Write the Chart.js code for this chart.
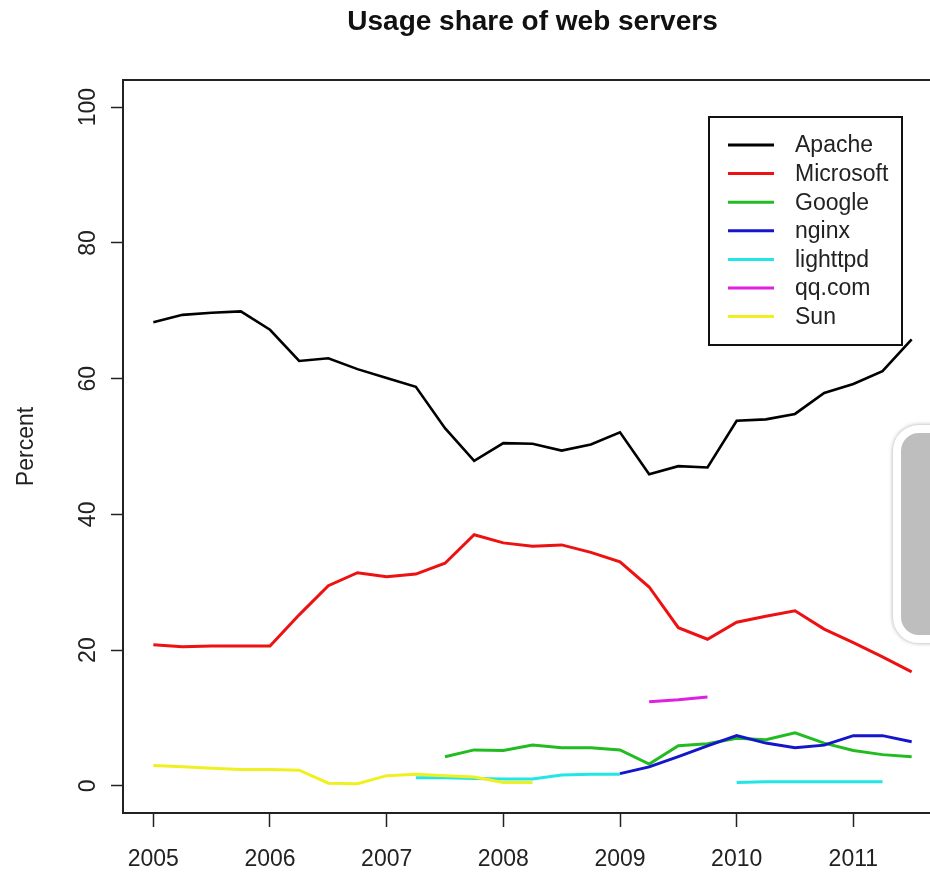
<!DOCTYPE html>
<html>
<head>
<meta charset="utf-8">
<script src="https://cdn.jsdelivr.net/npm/chart.js@4.4.1/dist/chart.umd.min.js"></script>
<style>
  html, body { margin: 0; padding: 0; background: #fff; overflow: hidden; }
  #wrap { position: relative; width: 960px; height: 874px; }
  #popup { position: absolute; left: 893px; top: 425px; width: 60px; height: 202px;
    background: #bebebe; border: 8px solid #fff; border-radius: 26px;
    box-shadow: 0 0 4px rgba(0,0,0,0.35); }
</style>
</head>
<body>
<div id="wrap">
  <canvas id="myChart"></canvas>
  <div id="popup"></div>
</div>
<script>
var ctx = document.getElementById('myChart');

var Quarters = [2005, 2005.25, 2005.5, 2005.75, 2006, 2006.25, 2006.5, 2006.75, 2007, 2007.25, 2007.5, 2007.75, 2008, 2008.25, 2008.5, 2008.75, 2009, 2009.25, 2009.5, 2009.75, 2010, 2010.25, 2010.5, 2010.75, 2011, 2011.25, 2011.5];
var Apache    = [68.3, 69.4, 69.7, 69.9, 67.2, 62.6, 63.0, 61.4, 60.1, 58.8, 52.7, 47.9, 50.5, 50.4, 49.4, 50.3, 52.1, 45.9, 47.1, 46.9, 53.8, 54.0, 54.8, 57.9, 59.2, 61.1, 65.8];
var Microsoft = [20.8, 20.5, 20.6, 20.6, 20.6, 25.2, 29.5, 31.4, 30.8, 31.2, 32.8, 37.0, 35.8, 35.3, 35.5, 34.4, 33.0, 29.3, 23.3, 21.6, 24.1, 25.0, 25.8, 23.1, 21.1, 19.0, 16.8];
var Google    = [null, null, null, null, null, null, null, null, null, null, 4.3, 5.3, 5.2, 6.0, 5.6, 5.6, 5.3, 3.2, 5.9, 6.2, 7.0, 6.8, 7.8, 6.3, 5.2, 4.6, 4.3];
var Nginx     = [null, null, null, null, null, null, null, null, null, null, null, null, null, null, null, null, 1.8, 2.8, 4.3, 5.9, 7.4, 6.3, 5.6, 6.0, 7.4, 7.4, 6.5];
var Lighttpd  = [null, null, null, null, null, null, null, null, null, 1.2, 1.2, 1.1, 1.0, 1.0, 1.6, 1.7, 1.7, null, null, null, 0.5, 0.6, 0.6, 0.6, 0.6, 0.6, null];
var QQ        = [null, null, null, null, null, null, null, null, null, null, null, null, null, null, null, null, null, 12.4, 12.7, 13.1, null, null, null, null, null, null, null];
var Sun       = [3.0, 2.8, 2.6, 2.4, 2.4, 2.3, 0.4, 0.3, 1.5, 1.7, 1.5, 1.3, 0.5, 0.5, null, null, null, null, null, null, null, null, null, null, null, null, null];

var Names  = ['Apache', 'Microsoft', 'Google', 'nginx', 'lighttpd', 'qq.com', 'Sun'];
var Series = [Apache, Microsoft, Google, Nginx, Lighttpd, QQ, Sun];
var Colors = ['#000000', '#ee1111', '#22bb22', '#1515cc', '#22e6e6', '#e020e0', '#f0f020'];
var XTicks = [2005, 2006, 2007, 2008, 2009, 2010, 2011];
var YTicks = [0, 20, 40, 60, 80, 100];

var FONT = '"Liberation Sans", Arial, Helvetica, sans-serif';

var datasets = Series.map(function (vals, i) {
  return {
    label: Names[i],
    data: Quarters.map(function (q, j) { return { x: q, y: vals[j] }; }),
    borderColor: Colors[i],
    backgroundColor: Colors[i],
    borderWidth: i == 0 ? 2.6 : 3,
    pointRadius: 0,
    tension: 0,
    spanGaps: false,
    order: -i
  };
});

// R style frame, rotated y labels and the boxed legend
var rStyle = {
  id: 'rStyle',
  afterDraw: function (chart) {
    var c = chart.ctx, a = chart.chartArea;
    c.save();
    c.strokeStyle = '#222';
    c.lineWidth = 2;
    c.strokeRect(a.left, a.top, a.right - a.left, a.bottom - a.top);

    var ys = chart.scales.y;
    c.fillStyle = '#222';
    c.font = '23px ' + FONT;
    c.textAlign = 'center';
    c.textBaseline = 'middle';
    YTicks.forEach(function (v) {
      c.save();
      c.translate(89, ys.getPixelForValue(v));
      c.rotate(-Math.PI / 2);
      c.fillText(String(v), 0, 0);
      c.restore();
    });

    // legend
    var lx = 709, ly = 117, lw = 193, lh = 228, row = 28.6;
    c.fillStyle = '#fff';
    c.fillRect(lx, ly, lw, lh);
    c.strokeStyle = '#111';
    c.lineWidth = 2;
    c.strokeRect(lx, ly, lw, lh);
    c.textAlign = 'left';
    chart.data.datasets.forEach(function (ds, i) {
      var y = ly + 28 + i * row;
      c.strokeStyle = ds.borderColor;
      c.lineWidth = 3;
      c.beginPath();
      c.moveTo(lx + 19, y);
      c.lineTo(lx + 65, y);
      c.stroke();
      c.fillStyle = '#222';
      c.fillText(ds.label, lx + 86, y + 1);
    });
    c.restore();
  }
};

var myChart = new Chart(ctx, {
  type: 'line',
  data: { datasets: datasets },
  options: {
    responsive: true,
    maintainAspectRatio: false,
    animation: false,
    layout: { padding: { left: 0, right: 18, top: 0, bottom: 0 } },
    plugins: {
      legend: { display: false },
      tooltip: { enabled: false },
      title: {
        display: true,
        fullSize: false,
        text: 'Usage share of web servers',
        color: '#111',
        font: { family: FONT, size: 28, weight: 'bold', lineHeight: 1.2 },
        padding: { top: 5, bottom: 41.4 }
      }
    },
    scales: {
      x: {
        type: 'linear',
        min: 2004.74,
        max: 2011.76,
        afterBuildTicks: function (s) { s.ticks = XTicks.map(function (v) { return { value: v }; }); },
        afterFit: function (s) { s.height = 61; },
        border: { display: false },
        grid: { drawOnChartArea: false, drawTicks: true, tickLength: 14, tickColor: '#222', tickWidth: 1.5 },
        ticks: { color: '#222', padding: 19, maxRotation: 0, font: { family: FONT, size: 23 },
          callback: function (v) { return String(v); } }
      },
      y: {
        type: 'linear',
        min: -4,
        max: 104,
        afterBuildTicks: function (s) { s.ticks = YTicks.map(function (v) { return { value: v }; }); },
        afterFit: function (s) { s.width = 123; },
        border: { display: false },
        grid: { drawOnChartArea: false, drawTicks: true, tickLength: 12, tickColor: '#222', tickWidth: 1.5 },
        ticks: { color: 'rgba(0,0,0,0)', font: { family: FONT, size: 23 } },
        title: {
          display: true,
          text: 'Percent',
          color: '#222',
          font: { family: FONT, size: 23, lineHeight: 1.2 },
          padding: { top: 13, bottom: 0 }
        }
      }
    }
  },
  plugins: [rStyle]
});
</script>
</body>
</html>
